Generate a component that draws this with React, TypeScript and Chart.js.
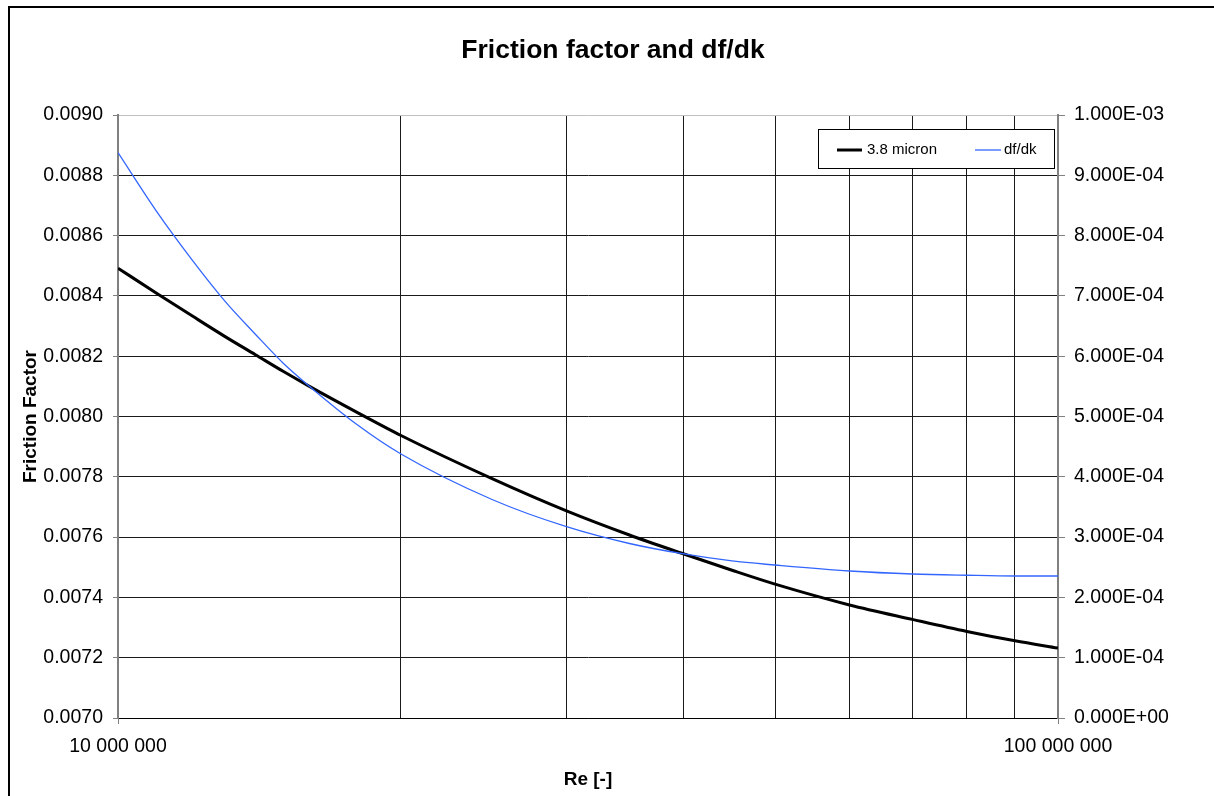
import React, { useEffect, useRef } from "react";
import { Chart, registerables } from "chart.js";

Chart.register(...registerables);

// Reynolds numbers along the log axis
const reynolds = [
  1e7, 1.1e7, 1.2e7, 1.3e7, 1.4e7, 1.5e7, 1.6e7, 1.8e7, 2e7, 2.5e7,
  3e7, 3.5e7, 4e7, 4.5e7, 5e7, 6e7, 7e7, 8e7, 9e7, 1e8,
];

// Friction factor for 3.8 micron roughness (left axis)
const frictionFactor = [
  0.008492, 0.008408, 0.008333, 0.008265, 0.008205, 0.008149, 0.008099, 0.008012,
  0.007937, 0.007794, 0.007687, 0.007607, 0.007544, 0.00749, 0.007444, 0.007375,
  0.007327, 0.007287, 0.007256, 0.007232,
];

// Sensitivity df/dk (right axis)
const dfdk = [
  9.375e-4, 8.393e-4, 7.589e-4, 6.909e-4, 6.365e-4, 5.879e-4, 5.494e-4, 4.854e-4,
  4.378e-4, 3.624e-4, 3.173e-4, 2.894e-4, 2.72e-4, 2.604e-4, 2.537e-4, 2.438e-4,
  2.388e-4, 2.367e-4, 2.355e-4, 2.355e-4,
];

const xGridValues = [1e7, 2e7, 3e7, 4e7, 5e7, 6e7, 7e7, 8e7, 9e7, 1e8];
const xLabeledValues = [1e7, 1e8];
const leftTickValues = [
  0.007, 0.0072, 0.0074, 0.0076, 0.0078, 0.008, 0.0082, 0.0084, 0.0086, 0.0088, 0.009,
];
const rightTickValues = [0, 1e-4, 2e-4, 3e-4, 4e-4, 5e-4, 6e-4, 7e-4, 8e-4, 9e-4, 1e-3];

const FONT = '"Liberation Sans", Arial, Helvetica, sans-serif';
const GRID = "#1a1a1a";
const AXIS_GRAY = "#808080";
const CLEAR = "rgba(0,0,0,0)";

function spaced(v: number): string {
  return String(Math.round(v)).replace(/\B(?=(\d{3})+(?!\d))/g, " ");
}

function excelSci(v: number): string {
  if (Math.abs(v) < 1e-15) return "0.000E+00";
  let exp = Math.floor(Math.log10(Math.abs(v)));
  let mant = v / Math.pow(10, exp);
  if (Math.abs(mant) >= 9.9995) {
    mant /= 10;
    exp += 1;
  }
  const sign = exp < 0 ? "-" : "+";
  return mant.toFixed(3) + "E" + sign + String(Math.abs(exp)).padStart(2, "0");
}

// Boxed legend sitting inside the plot area, top right
const boxLegend = {
  id: "boxLegend",
  afterDatasetsDraw(chart: any) {
    const { ctx, chartArea } = chart;
    const w = 237;
    const h = 40;
    const x0 = chartArea.right - 3 - w;
    const y0 = chartArea.top + 14;
    ctx.save();
    ctx.fillStyle = "#ffffff";
    ctx.fillRect(x0, y0, w, h);
    ctx.strokeStyle = "#000000";
    ctx.lineWidth = 1;
    ctx.strokeRect(x0 + 0.5, y0 + 0.5, w - 1, h - 1);
    ctx.font = `15px ${FONT}`;
    ctx.textBaseline = "middle";
    ctx.textAlign = "left";
    const cy = y0 + 21;
    const slots = [
      { lineX: 19, lineW: 25, textX: 49 },
      { lineX: 157, lineW: 26, textX: 186 },
    ];
    chart.data.datasets.forEach((ds: any, i: number) => {
      const s = slots[i];
      ctx.strokeStyle = ds.borderColor;
      ctx.lineWidth = ds.borderWidth;
      ctx.beginPath();
      ctx.moveTo(x0 + s.lineX, cy);
      ctx.lineTo(x0 + s.lineX + s.lineW, cy);
      ctx.stroke();
      ctx.fillStyle = "#000000";
      ctx.fillText(ds.label, x0 + s.textX, cy);
    });
    ctx.restore();
  },
};

export default function App() {
  const canvasRef = useRef<HTMLCanvasElement | null>(null);

  useEffect(() => {
    const canvas = canvasRef.current;
    if (!canvas) return;

    const chart = new Chart(canvas, {
      type: "line",
      data: {
        datasets: [
          {
            label: "3.8 micron",
            data: reynolds.map((r, i) => ({ x: r, y: frictionFactor[i] })),
            borderColor: "#000000",
            borderWidth: 3,
            pointRadius: 0,
            cubicInterpolationMode: "monotone",
            yAxisID: "y",
            order: 1,
          },
          {
            label: "df/dk",
            data: reynolds.map((r, i) => ({ x: r, y: dfdk[i] })),
            borderColor: "#3366ff",
            borderWidth: 1.3,
            pointRadius: 0,
            cubicInterpolationMode: "monotone",
            yAxisID: "y2",
            order: 0,
          },
        ],
      },
      options: {
        responsive: false,
        animation: false,
        events: [],
        layout: { padding: 0 },
        plugins: {
          legend: { display: false },
          tooltip: { enabled: false },
          title: {
            display: true,
            text: "Friction factor and df/dk",
            color: "#000000",
            font: { family: FONT, size: 26.5, weight: "bold" },
            padding: { top: 35, bottom: 48.2 },
          },
        },
        scales: {
          x: {
            type: "logarithmic",
            min: 1e7,
            max: 1e8,
            afterBuildTicks: (s: any) => {
              s.ticks = xGridValues.map((v) => ({ value: v }));
            },
            afterFit: (s: any) => {
              s.height = 78;
            },
            ticks: {
              autoSkip: false,
              maxRotation: 0,
              minRotation: 0,
              padding: 11,
              color: "#000000",
              font: { family: FONT, size: 19.5 },
              callback: (v: any) => (xLabeledValues.includes(Number(v)) ? spaced(Number(v)) : ""),
            },
            grid: {
              lineWidth: 1,
              tickLength: 6,
              color: (c: any) =>
                c.tick && xLabeledValues.includes(c.tick.value) ? CLEAR : GRID,
              tickColor: (c: any) =>
                c.tick && xLabeledValues.includes(c.tick.value) ? AXIS_GRAY : CLEAR,
            },
            border: { color: "#000000", width: 1 },
            title: {
              display: true,
              text: "Re [-]",
              color: "#000000",
              font: { family: FONT, size: 19, weight: "bold" },
              padding: { top: 0, bottom: 4.6 },
            },
          },
          y: {
            position: "left",
            min: 0.007,
            max: 0.009,
            afterBuildTicks: (s: any) => {
              s.ticks = leftTickValues.map((v) => ({ value: v }));
            },
            afterFit: (s: any) => {
              s.width = 118;
            },
            ticks: {
              padding: 10,
              color: "#000000",
              font: { family: FONT, size: 19.5 },
              callback: (v: any) => Number(v).toFixed(4),
            },
            grid: {
              lineWidth: 1,
              tickLength: 5,
              color: (c: any) => (c.tick && c.tick.value > 0.00899 ? "#c0c0c0" : GRID),
              tickColor: AXIS_GRAY,
            },
            border: { color: AXIS_GRAY, width: 2 },
            title: {
              display: true,
              text: "Friction Factor",
              color: "#000000",
              font: { family: FONT, size: 19, weight: "bold" },
              padding: { top: 19.5, bottom: 0 },
            },
          },
          y2: {
            position: "right",
            min: 0,
            max: 0.001,
            afterBuildTicks: (s: any) => {
              s.ticks = rightTickValues.map((v) => ({ value: v }));
            },
            afterFit: (s: any) => {
              s.width = 168;
            },
            ticks: {
              padding: 9,
              color: "#000000",
              font: { family: FONT, size: 19.5 },
              callback: (v: any) => excelSci(Number(v)),
            },
            grid: {
              drawOnChartArea: false,
              tickLength: 7,
              tickColor: AXIS_GRAY,
            },
            border: { color: AXIS_GRAY, width: 2 },
          },
        },
      } as any,
      plugins: [boxLegend],
    });

    return () => chart.destroy();
  }, []);

  return (
    <div
      style={{
        position: "fixed",
        left: 0,
        top: 0,
        width: 1214,
        height: 796,
        overflow: "hidden",
        background: "#ffffff",
      }}
    >
      <div
        style={{
          position: "absolute",
          left: 8,
          top: 6,
          width: 1300,
          height: 900,
          borderLeft: "2.5px solid #000000",
          borderTop: "2.5px solid #000000",
        }}
      />
      <canvas
        ref={canvasRef}
        width={1226}
        height={796}
        style={{ position: "absolute", left: 0, top: 0, width: 1226, height: 796 }}
      />
    </div>
  );
}
